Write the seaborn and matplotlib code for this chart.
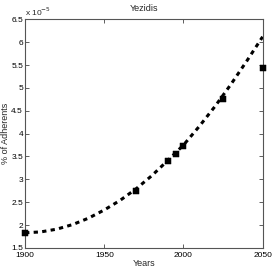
import matplotlib
matplotlib.use("Agg")
import matplotlib.pyplot as plt
import seaborn as sns
import pandas as pd

# observed share of adherents (units of 1e-5)
years = [1900, 1970, 1990, 1995, 2000, 2025, 2050]
share = [1.83, 2.75, 3.40, 3.56, 3.73, 4.75, 5.43]

# fitted trend
curve_years = [1900, 1910, 1920, 1930, 1940, 1950, 1960, 1970, 1980,
               1990, 2000, 2010, 2020, 2030, 2040, 2050]
curve_share = [1.83, 1.85, 1.91, 2.01, 2.15, 2.33, 2.54, 2.79, 3.08,
               3.41, 3.75, 4.16, 4.60, 5.08, 5.59, 6.12]

sns.set_style("ticks")
plt.rcParams['font.family'] = ['Liberation Sans', 'DejaVu Sans']

pts = pd.DataFrame({"year": years, "share": share})
fit = pd.DataFrame({"year": curve_years, "share": curve_share})

fig = plt.figure(figsize=(2.73, 2.73), dpi=100)
ax = fig.add_axes([0.092, 0.092, 0.87, 0.837])

sns.lineplot(data=fit, x="year", y="share", ax=ax, color="black",
             linestyle=(0, (1.4, 1.4)), linewidth=2.2)
sns.scatterplot(data=pts, x="year", y="share", ax=ax, color="black",
                marker="s", s=20, edgecolor="black", zorder=5, clip_on=False)

ax.set_xlim(1900, 2050)
ax.set_ylim(1.5, 6.5)
ax.set_xticks([1900, 1950, 2000, 2050])
ax.set_yticks([1.5, 2, 2.5, 3, 3.5, 4, 4.5, 5, 5.5, 6, 6.5])
ax.set_yticklabels(["1.5", "2", "2.5", "3", "3.5", "4", "4.5", "5", "5.5", "6", "6.5"])
ax.tick_params(direction="in", length=3, width=0.6, labelsize=6,
               top=True, right=True, colors="#444444", labelcolor="black", pad=1.5)
ax.tick_params(axis="x", pad=3)
for sp in ax.spines.values():
    sp.set_visible(True)
    sp.set_color("#555555")
    sp.set_linewidth(0.8)

ax.set_title("Yezidis", fontsize=6.5, pad=6)
ax.set_xlabel("Years", fontsize=6.5, labelpad=0)
ax.set_ylabel("% of Adherents", fontsize=6.5, labelpad=1)
ax.text(0.0, 1.005, r"x 10$^{-5}$", transform=ax.transAxes, fontsize=6,
        ha="left", va="bottom")

fig.savefig("out.png", dpi=100)
